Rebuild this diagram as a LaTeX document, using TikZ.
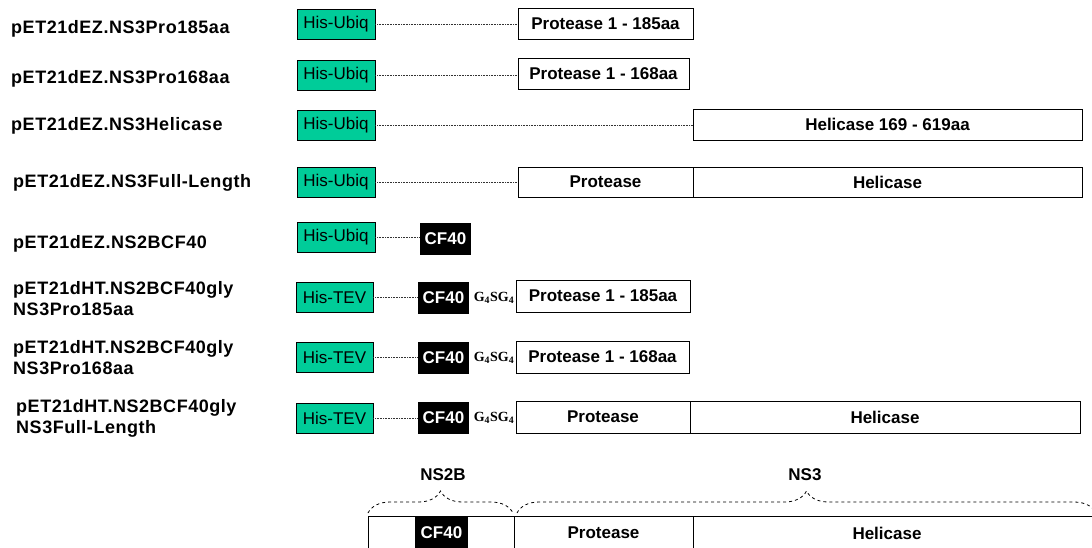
\documentclass[tikz,border=0pt]{standalone}
\usepackage{fontspec}
\setmainfont{Liberation Sans}
\newfontfamily\serifG{Liberation Serif}
\newfontfamily\lblfont[LetterSpace=3]{Liberation Sans}
\usetikzlibrary{decorations.pathreplacing}
\definecolor{tealbox}{HTML}{00CC99}
\tikzset{
  lbl/.style={anchor=base west, inner sep=0pt, align=left, font=\lblfont\bfseries\fontsize{18}{20.5}\selectfont},
  tag/.style={draw=black, line width=0.9pt, fill=tealbox, minimum width=78, minimum height=30, inner sep=0pt, font=\fontsize{17}{19}\selectfont},
  seg/.style={draw=black, line width=1pt, fill=white, minimum height=31, inner sep=0pt, font=\bfseries\fontsize{17}{19}\selectfont},
  cf/.style={fill=black, text=white, minimum width=51, minimum height=32, inner sep=0pt, font=\bfseries\fontsize{17}{19}\selectfont},
  link/.style={densely dotted, line width=0.6pt, black!80},
  gly/.style={inner sep=0pt, font=\serifG\bfseries\fontsize{14}{16}\selectfont},
  brc/.style={decorate, dashed, line width=0.8pt, decoration={brace, amplitude=22pt}},
  head/.style={inner sep=0pt, font=\bfseries\fontsize{17}{19}\selectfont}
}
\newcommand{\glyt}{G\textsubscript{4}SG\textsubscript{4}}
\begin{document}
\begin{tikzpicture}[x=1pt,y=-1pt]
\useasboundingbox (0,0) rectangle (1092,547);
\clip (0,0) rectangle (1092,547);
% labels
\node[lbl] (l1) at (11,33) {pET21dEZ.NS3Pro185aa};
\node[lbl] (l2) at (11,83) {pET21dEZ.NS3Pro168aa};
\node[lbl] (l3) at (11,130) {pET21dEZ.NS3Helicase};
\node[lbl] (l4) at (13,187) {pET21dEZ.NS3Full-Length};
\node[lbl] (l5) at (13,248) {pET21dEZ.NS2BCF40};
\node[lbl] (l6) at (13,315) {pET21dHT.NS2BCF40gly\\NS3Pro185aa};
\node[lbl] (l7) at (13,374) {pET21dHT.NS2BCF40gly\\NS3Pro168aa};
\node[lbl] (l8) at (16,433) {pET21dHT.NS2BCF40gly\\NS3Full-Length};
% row 1
\node[tag] (h1) at (336,24) {His-Ubiq};
\node[seg, minimum width=175] (p1) at (605.5,23.5) {Protease 1 - 185aa};
\draw[link] (h1.east) -- (h1.east -| p1.west);
% row 2
\node[tag] (h2) at (336,75) {His-Ubiq};
\node[seg, minimum width=171] (p2) at (603.5,73.5) {Protease 1 - 168aa};
\draw[link] (h2.east) -- (h2.east -| p2.west);
% row 3
\node[tag] (h3) at (336,125.5) {His-Ubiq};
\node[seg, minimum width=389] (p3) at (887.5,124.5) {Helicase 169 - 619aa};
\draw[link] (h3.east) -- (h3.east -| p3.west);
% row 4
\node[tag] (h4) at (336,182.5) {His-Ubiq};
\node[seg, minimum width=175, minimum height=30] (p4) at (605.5,182) {Protease};
\node[seg, minimum width=389, minimum height=30] (q4) at (887.5,182) {Helicase};
\draw[link] (h4.east) -- (h4.east -| p4.west);
% row 5
\node[tag] (h5) at (336,237) {His-Ubiq};
\node[cf] (c5) at (445.5,239) {CF40};
\draw[link] (h5.east) -- (h5.east -| c5.west);
% row 6
\node[tag, minimum width=77] (h6) at (334.5,297) {His-TEV};
\node[cf] (c6) at (443.5,298) {CF40};
\node[gly] (g6) at (494,298) {\glyt};
\node[seg, minimum width=174, minimum height=32] (p6) at (603,296) {Protease 1 - 185aa};
\draw[link] (h6.east) -- (h6.east -| c6.west);
% row 7
\node[tag, minimum width=77] (h7) at (334.5,357) {His-TEV};
\node[cf] (c7) at (443.5,358) {CF40};
\node[gly] (g7) at (494,358) {\glyt};
\node[seg, minimum width=173, minimum height=32] (p7) at (602.5,357) {Protease 1 - 168aa};
\draw[link] (h7.east) -- (h7.east -| c7.west);
% row 8
\node[tag, minimum width=77] (h8) at (334.5,418) {His-TEV};
\node[cf] (c8) at (443.5,418) {CF40};
\node[gly] (g8) at (494,418) {\glyt};
\node[seg, minimum width=174, minimum height=32] (p8) at (603,417) {Protease};
\node[seg, minimum width=390, minimum height=32] (q8) at (885,417) {Helicase};
\draw[link] (h8.east) -- (h8.east -| c8.west);
% bottom overview
\node[seg, minimum width=146, minimum height=34] (b1) at (441,533) {};
\node[cf, minimum width=53, minimum height=34] (bc) at (441.5,533) {CF40};
\node[seg, minimum width=179, minimum height=34] (b2) at (603.5,533) {Protease};
\node[seg, minimum width=407, minimum height=34] (b3) at (896.5,533) {};
\node[head] (bh) at (887,533) {Helicase};
\coordinate (n2a) at (368,513);
\coordinate (n2b) at (513,513);
\coordinate (n3a) at (517,513);
\coordinate (n3b) at (1096,513);
\draw[brc] (n2a) -- (n2b);
\draw[brc] (n3a) -- (n3b);
\node[head] (ns2b) at (443,475) {NS2B};
\node[head] (ns3) at (805,475) {NS3};
\end{tikzpicture}
\end{document}
